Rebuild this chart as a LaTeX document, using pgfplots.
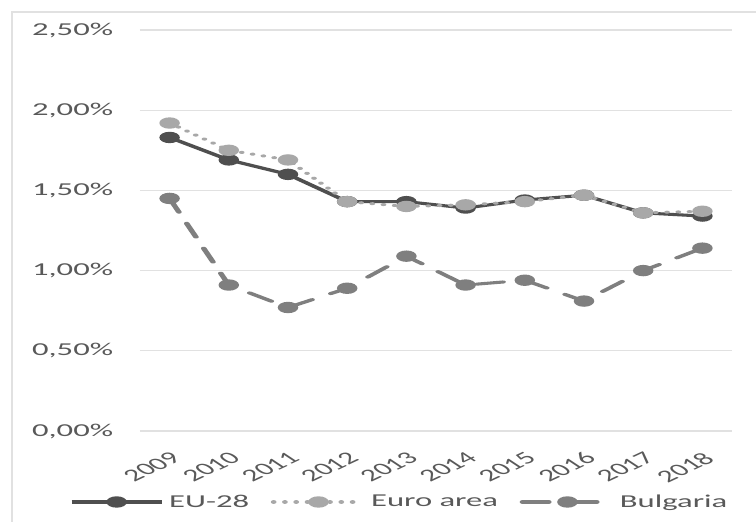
\documentclass[border=0pt]{standalone}
\usepackage{fontspec}
\setmainfont{Carlito}
\usepackage{pgfplots}
\pgfplotsset{compat=1.18}
\definecolor{euline}{HTML}{4F4F4F}
\definecolor{ealine}{HTML}{A8A8A8}
\definecolor{bgline}{HTML}{7F7F7F}
\definecolor{gridc}{HTML}{E1E1E1}
\definecolor{txt}{HTML}{595959}
\newcommand{\lblfont}{\fontsize{13.6}{16}\selectfont}

\begin{document}
\begin{tikzpicture}
\useasboundingbox[fill=white] (0,0) rectangle (567pt,391.5pt);
\begin{scope}[transform canvas={xscale=1.8}]
% chart frame
\draw[gridc, line width=0.9pt] (5pt,0) -- (5pt,382.5pt) -- (315pt,382.5pt);
\begin{axis}[
  at={(58.33pt,68.25pt)}, anchor=south west,
  scale only axis, width=246.67pt, height=300.75pt,
  xmin=-0.5, xmax=9.5, ymin=0, ymax=2.5,
  axis line style={draw=none},
  major tick length=0pt,
  ymajorgrids, grid style={gridc, line width=0.9pt},
  ytick={0,0.5,1,1.5,2,2.5},
  yticklabels={{0,00\%},{0,50\%},{1,00\%},{1,50\%},{2,00\%},{2,50\%}},
  yticklabel style={anchor=east, inner sep=0pt, xshift=-11pt, font=\lblfont, text=txt},
  xtick={0,...,9},
  xticklabels={2009,2010,2011,2012,2013,2014,2015,2016,2017,2018},
  xticklabel style={yshift=-15pt, xshift=0pt, rotate=40, anchor=north east, inner sep=0pt, font=\fontsize{13}{15}\selectfont, text=txt},
  clip=false,
  legend columns=3,
  legend style={draw=none, fill=none, at={(axis description cs:0.44,-0.177)}, anchor=center,
    font=\lblfont, text=txt, /tikz/every even column/.append style={column sep=7pt}},
  legend image code/.code={\draw[mark repeat=2,mark phase=2] plot coordinates {(0pt,0pt) (18.75pt,0pt) (37.5pt,0pt)};},
  every axis plot/.append style={line width=2.3pt, mark=*, mark size=3.1pt, mark options={solid}},
]
\addplot[euline] coordinates {(0,1.83) (1,1.69) (2,1.60) (3,1.43) (4,1.43) (5,1.39) (6,1.44) (7,1.47) (8,1.36) (9,1.34)};
\addlegendentry{EU-28}
\addplot[ealine, line cap=round, dash pattern=on 0.1pt off 4.6pt] coordinates {(0,1.92) (1,1.75) (2,1.69) (3,1.43) (4,1.40) (5,1.41) (6,1.43) (7,1.47) (8,1.36) (9,1.37)};
\addlegendentry{Euro area}
\addplot[bgline, line cap=round, dash pattern=on 11pt off 9pt] coordinates {(0,1.45) (1,0.91) (2,0.77) (3,0.89) (4,1.09) (5,0.91) (6,0.94) (7,0.81) (8,1.00) (9,1.14)};
\addlegendentry{Bulgaria}
\end{axis}
\end{scope}
\end{tikzpicture}
\end{document}
